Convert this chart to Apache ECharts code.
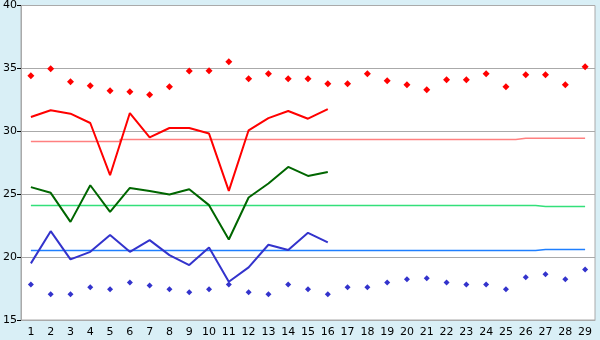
<!DOCTYPE html>
<html><head><meta charset="utf-8">
<script src="https://cdn.jsdelivr.net/npm/echarts@6/dist/echarts.min.js"></script>
<style>html,body{margin:0;padding:0;background:#d9eff6;}#c{width:600px;height:340px;}</style>
</head><body><div id="c"></div>
<script>
var categories = ['1','2','3','4','5','6','7','8','9','10','11','12','13','14','15','16','17','18','19','20','21','22','23','24','25','26','27','28','29'];
var redDots = [34.42,34.98,33.94,33.62,33.23,33.15,32.91,33.55,34.79,34.81,35.53,34.18,34.58,34.18,34.18,33.78,33.78,34.58,34.02,33.70,33.31,34.10,34.10,34.58,33.55,34.50,34.50,33.70,35.13];
var blueDots = [17.83,17.04,17.04,17.60,17.44,17.99,17.75,17.44,17.20,17.44,17.83,17.20,17.04,17.83,17.44,17.04,17.60,17.60,17.99,18.23,18.31,17.99,17.83,17.83,17.44,18.39,18.63,18.23,19.02];
var redLine = [31.14,31.67,31.40,30.66,26.51,31.45,29.52,30.26,30.26,29.82,25.26,30.08,31.05,31.61,31.00,31.77];
var greenLine = [25.56,25.11,22.80,25.71,23.60,25.50,25.26,24.97,25.40,24.13,21.40,24.74,25.85,27.17,26.45,26.77];
var blueLine = [19.50,22.06,19.82,20.42,21.75,20.42,21.35,20.16,19.37,20.77,18.04,19.18,20.98,20.56,21.93,21.17];
var redRef = [29.18,29.18,29.18,29.18,29.18,29.34,29.34,29.34,29.34,29.34,29.34,29.34,29.34,29.34,29.34,29.34,29.34,29.34,29.34,29.34,29.34,29.34,29.34,29.34,29.34,29.44,29.44,29.44,29.44];
var greenRef = [24.10,24.10,24.10,24.10,24.10,24.10,24.10,24.10,24.10,24.10,24.10,24.10,24.10,24.10,24.10,24.10,24.10,24.10,24.10,24.10,24.10,24.10,24.10,24.10,24.10,24.10,24.02,24.02,24.02];
var blueRef = [20.53,20.53,20.53,20.53,20.53,20.53,20.53,20.53,20.53,20.53,20.53,20.53,20.53,20.53,20.53,20.53,20.53,20.53,20.53,20.53,20.53,20.53,20.53,20.53,20.53,20.53,20.61,20.61,20.61];
var yTicks = [15, 40, 5];

var chart = echarts.init(document.getElementById('c'), null, {renderer: 'canvas'});
var font = {fontFamily: 'DejaVu Sans', fontSize: 11, color: '#000'};
function lineS(data, color, width, step) {
  return {type: 'line', data: data, symbol: 'none', step: step || false, silent: true, animation: false,
    lineStyle: {color: color, width: width}, z: 3};
}
function dotS(data, color, size) {
  return {type: 'scatter', data: data, symbol: 'diamond', symbolSize: size, silent: true, animation: false,
    itemStyle: {color: color, opacity: 1}, z: 4};
}
chart.setOption({
  backgroundColor: '#d9eff6',
  animation: false,
  grid: {left: 20, top: 5, right: 5, bottom: 20, show: true, backgroundColor: '#ffffff', borderColor: '#aaaaaa', borderWidth: 1},
  xAxis: {type: 'category', data: categories, boundaryGap: true,
    axisLine: {lineStyle: {color: '#aaaaaa', width: 1}},
    axisTick: {alignWithLabel: true, length: 5, lineStyle: {color: '#000'}},
    axisLabel: Object.assign({margin: 7, interval: 0}, font),
    splitLine: {show: false}},
  yAxis: {type: 'value', min: yTicks[0], max: yTicks[1], interval: yTicks[2],
    axisLine: {show: true, lineStyle: {color: '#aaaaaa', width: 1}},
    axisTick: {show: true, length: 4, lineStyle: {color: '#000'}},
    axisLabel: Object.assign({margin: 4}, font),
    splitLine: {lineStyle: {color: '#aaaaaa', width: 1}}},
  series: [
    lineS(redRef, '#ff8080', 1.5, 'middle'),
    lineS(greenRef, '#33e07a', 1.5, 'middle'),
    lineS(blueRef, '#1f7fff', 1.5, 'middle'),
    lineS(redLine, '#ff0000', 2),
    lineS(greenLine, '#006600', 2),
    lineS(blueLine, '#3333cc', 2),
    dotS(redDots, '#ff0000', 7),
    dotS(blueDots, '#3333cc', 6)
  ]
});
</script></body></html>
